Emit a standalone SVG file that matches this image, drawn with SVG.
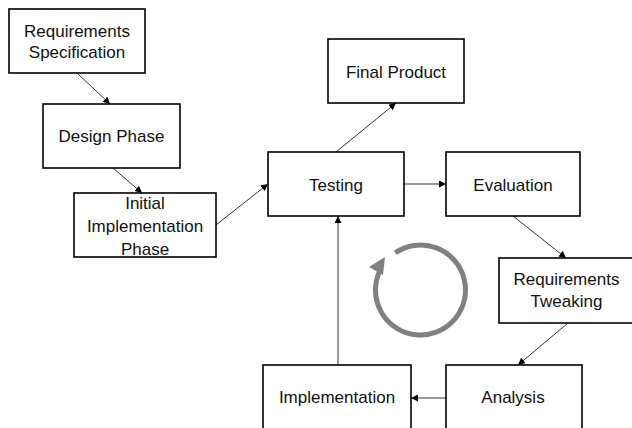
<svg xmlns="http://www.w3.org/2000/svg" width="632" height="428" viewBox="0 0 632 428">
  <style>
    .box { fill: #ffffff; stroke: #000000; stroke-width: 1.6; }
    .label { font-family: "Liberation Sans", Arial, sans-serif; font-size: 17px; fill: #111111; text-anchor: middle; }
    .conn { stroke: #333333; stroke-width: 1; fill: none; marker-end: url(#arrow); }
    .cycle { stroke: #808080; stroke-width: 5; fill: none; }
  </style>
  <defs>
    <marker id="arrow" markerWidth="8" markerHeight="8" refX="7" refY="3.5" orient="auto" markerUnits="userSpaceOnUse">
      <path d="M0,0 L7,3.5 L0,7 Z" fill="#000000"/>
    </marker>
  </defs>
  <rect width="632" height="428" fill="#ffffff"/>

  <!-- connectors -->
  <g id="connectors">
    <line class="conn" x1="78" y1="74" x2="110" y2="104"/>
    <line class="conn" x1="113" y1="168" x2="142" y2="193"/>
    <line class="conn" x1="216" y1="225" x2="268" y2="184"/>
    <line class="conn" x1="336" y1="152" x2="396" y2="103"/>
    <line class="conn" x1="404" y1="184" x2="446" y2="184"/>
    <line class="conn" x1="513" y1="216" x2="566" y2="258"/>
    <line class="conn" x1="568" y1="323" x2="518" y2="365"/>
    <line class="conn" x1="446" y1="398" x2="411" y2="398"/>
    <line class="conn" x1="338" y1="365" x2="338" y2="216"/>
  </g>

  <!-- iteration cycle symbol -->
  <g id="cycle">
    <path class="cycle" d="M395.3,252.7 A45 45 0 1 1 379.7,271"/>
    <polygon points="385,257 369,267 383,275" fill="#808080"/>
  </g>

  <g id="req-spec">
    <rect class="box" x="9" y="9" width="136" height="64"/>
    <text class="label" x="77" y="37">Requirements</text>
    <text class="label" x="77" y="58">Specification</text>
  </g>

  <g id="design-phase">
    <rect class="box" x="43" y="104" width="137" height="64"/>
    <text class="label" x="111.5" y="142">Design Phase</text>
  </g>

  <g id="initial-impl">
    <rect class="box" x="74" y="193" width="142" height="64"/>
    <text class="label" x="145" y="209">Initial</text>
    <text class="label" x="145" y="232">Implementation</text>
    <text class="label" x="145" y="255">Phase</text>
  </g>

  <g id="final-product">
    <rect class="box" x="328" y="39" width="136" height="64"/>
    <text class="label" x="396" y="78">Final Product</text>
  </g>

  <g id="testing">
    <rect class="box" x="268" y="152" width="136" height="64"/>
    <text class="label" x="336" y="191">Testing</text>
  </g>

  <g id="evaluation">
    <rect class="box" x="446" y="152" width="134" height="64"/>
    <text class="label" x="513" y="191">Evaluation</text>
  </g>

  <g id="req-tweaking">
    <rect class="box" x="499" y="258" width="136" height="65"/>
    <text class="label" x="566.5" y="285">Requirements</text>
    <text class="label" x="566.5" y="307">Tweaking</text>
  </g>

  <g id="analysis">
    <rect class="box" x="446" y="365" width="136" height="66"/>
    <text class="label" x="513" y="403">Analysis</text>
  </g>

  <g id="implementation">
    <rect class="box" x="263" y="365" width="148" height="66"/>
    <text class="label" x="337" y="403">Implementation</text>
  </g>
</svg>
